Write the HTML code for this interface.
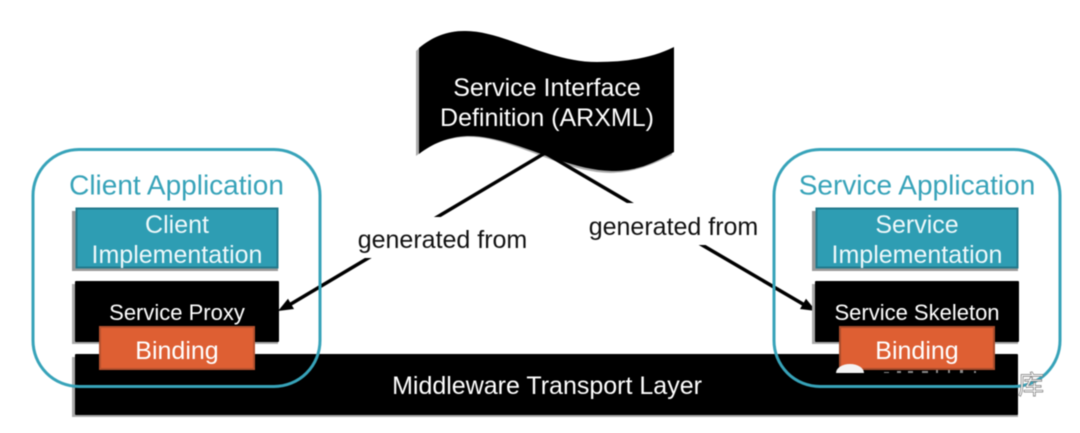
<!DOCTYPE html>
<html>
<head>
<meta charset="utf-8">
<style>
html,body{margin:0;padding:0;background:#fff;width:1080px;height:433px;overflow:hidden}
svg{display:block;filter:blur(.45px)}
text{font-family:"Liberation Sans","Noto Sans CJK SC",sans-serif;text-anchor:middle}
</style>
</head>
<body>
<svg width="1080" height="433" viewBox="0 0 1080 433" xmlns="http://www.w3.org/2000/svg">
<rect width="1080" height="433" fill="#fff"/>

<!-- flag -->
<path d="M416 51 C430 38 445 32 462 31 C500 30 545 62 595 63 C625 63 650 58 672 48 L672 155 C650 166 635 172 610 173 C560 172 510 135 465 137 C445 138 430 145 416 156 Z" fill="#aaa"/>
<path d="M419 48 C432 37 447 31 464 31 C502 30 547 62 597 62 C627 62 652 58 674 47 L674 152 C652 164 637 171 612 171 C562 170 512 135 467 136 C447 137 432 144 419 154 Z" fill="#000"/>
<text x="547" y="96" font-size="25" fill="#fff">Service Interface</text>
<text x="547" y="126" font-size="25" fill="#fff">Definition (ARXML)</text>

<!-- connectors -->
<line x1="545" y1="153" x2="285" y2="307.500" stroke="#000" stroke-width="3.500"/>
<polygon points="278,311 288,298.700 294,309" fill="#000"/>
<line x1="545" y1="153" x2="808" y2="307" stroke="#000" stroke-width="3.500"/>
<polygon points="816,311 800,309 806,298.700" fill="#000"/>
<rect x="350" y="217" width="186" height="41" fill="#fff"/>
<rect x="581" y="203" width="186" height="42" fill="#fff"/>
<text x="442.500" y="248" font-size="25" fill="#111">generated from</text>
<text x="673.500" y="235" font-size="25" fill="#111">generated from</text>

<!-- middleware -->
<rect x="72" y="357" width="946" height="60" fill="#aaa"/>
<rect x="75" y="354" width="943" height="61" rx="1" fill="#000"/>
<text x="547" y="394" font-size="25" fill="#fff">Middleware Transport Layer</text>

<!-- client -->
<rect x="72" y="211" width="206" height="60" fill="#999"/>
<rect x="76.500" y="208.500" width="201" height="59" fill="#2e9db3" stroke="#22798c" stroke-width="2"/>
<text x="177" y="233" font-size="25" fill="#eef8fa">Client</text>
<text x="177" y="263" font-size="25" fill="#eef8fa">Implementation</text>
<rect x="72" y="284" width="206" height="60" fill="#aaa"/>
<rect x="75" y="281" width="204" height="61" rx="1" fill="#000"/>
<text x="177" y="320" font-size="22" fill="#fff">Service Proxy</text>
<rect x="100" y="327" width="154" height="42" fill="#de5f33" stroke="#b5512e" stroke-width="2"/>
<text x="177" y="359" font-size="25" fill="#fff">Binding</text>
<rect x="33" y="149.500" width="287" height="237" rx="46" fill="none" stroke="#37a3b9" stroke-width="3"/>
<text x="176.500" y="194.500" font-size="28" fill="#37a3b9">Client Application</text>

<!-- service -->
<rect x="812" y="211" width="206" height="60" fill="#999"/>
<rect x="816.500" y="208.500" width="201" height="59" fill="#2e9db3" stroke="#22798c" stroke-width="2"/>
<text x="917" y="233" font-size="25" fill="#eef8fa">Service</text>
<text x="917" y="263" font-size="25" fill="#eef8fa">Implementation</text>
<rect x="812" y="284" width="206" height="60" fill="#aaa"/>
<rect x="815" y="281" width="204" height="61" rx="1" fill="#000"/>
<text x="917" y="320" font-size="22" fill="#fff">Service Skeleton</text>
<rect x="840" y="327" width="154" height="42" fill="#de5f33" stroke="#a94c2b" stroke-width="2"/>
<text x="917" y="359" font-size="25" fill="#fff">Binding</text>
<rect x="774" y="149.500" width="286" height="237" rx="46" fill="none" stroke="#37a3b9" stroke-width="3"/>
<text x="917" y="194.500" font-size="28" fill="#37a3b9">Service Application</text>

<!-- watermark -->
<path d="M836 373 A14 9 0 0 1 864 373 Z" fill="#f4f4f4"/>
<g fill="#888">
<rect x="884" y="372" width="5" height="1"/><rect x="897" y="371" width="4" height="2"/><rect x="908" y="371" width="5" height="2"/><rect x="922" y="371" width="6" height="2"/><rect x="936" y="370" width="2" height="3"/><rect x="948" y="370" width="2" height="3"/><rect x="960" y="370" width="3" height="3"/><rect x="974" y="371" width="2" height="2"/>
</g>
<text x="1031" y="394" font-size="26" fill="#fff" stroke="#777" stroke-width=".7">库</text>
</svg>
</body>
</html>
